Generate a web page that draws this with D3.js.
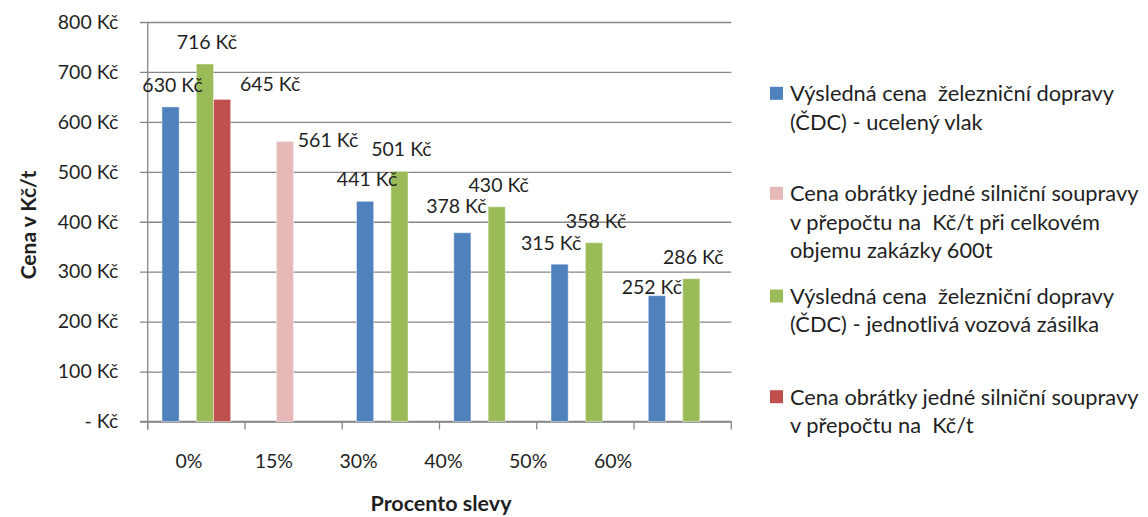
<!DOCTYPE html>
<html>
<head>
<meta charset="utf-8">
<script src="https://cdn.jsdelivr.net/npm/d3@7"></script>
<style>
  html, body { margin: 0; padding: 0; background: #fff; }
  svg text { font-family: Lato, "Open Sans", sans-serif; fill: #1f1f1f; }
</style>
</head>
<body>
<svg id="chart" width="1148" height="517"></svg>
<script>
// Discount levels
const categories = ["0%", "15%", "30%", "40%", "50%", "60%"];

// Series names (legend text, lines split with \n)
const seriesNames = [
  "Výsledná cena  železniční dopravy\n(ČDC) - ucelený vlak",
  "Cena obrátky jedné silniční soupravy\nv přepočtu na  Kč/t při celkovém\nobjemu zakázky 600t",
  "Výsledná cena  železniční dopravy\n(ČDC) - jednotlivá vozová zásilka",
  "Cena obrátky jedné silniční soupravy\nv přepočtu na  Kč/t"
];

// Price in Kč/t per discount level (null = no bar)
const railBlockTrain   = [630, null, 441, 378, 315, 252];
const roadTotalOrder   = [null, 561, null, null, null, null];
const railSingleWagon  = [716, null, 501, 430, 358, 286];
const roadPerTon       = [645, null, null, null, null, null];

const yTicks = [0, 100, 200, 300, 400, 500, 600, 700, 800];

const seriesValues = [railBlockTrain, roadTotalOrder, railSingleWagon, roadPerTon];
const colors = ["#4F81BD", "#E6B9B8", "#9BBB59", "#C0504D"];

// Label placement tweaks (relative to bar centre / bar top)
const labelDefault = { dx: 2, dy: -22 };
const labelTweak = {
  "3|0": { dx: 48, dy: -15 },
  "1|1": { dx: 43, dy: -1 },
  "0|3": { dx: -6, dy: -27 },
  "0|4": { dx: -8.5, dy: -21 },
  "0|5": { dx: -5, dy: -8.5 }
};

const svg = d3.select("#chart");
const plot = { left: 147.7, right: 731.3, top: 22, bottom: 421.5 };
const gridColor = "#868686";
const fontSize = 19.5;

const x0 = d3.scaleBand().domain(categories).range([plot.left, plot.right]).padding(0);
const groupPad = x0.bandwidth() * 0.1465;
const x1 = d3.scaleBand().domain(d3.range(seriesValues.length))
  .range([groupPad, x0.bandwidth() - groupPad]).padding(0);
const y = d3.scaleLinear().domain([0, 800]).range([plot.bottom, plot.top]);

// Category labels sit on their own evenly spaced positions
const xLabel = d3.scalePoint().domain(categories).range([189, 613]);

const fmt = v => v === 0 ? "- Kč" : v + " Kč";

// Horizontal gridlines + y axis
const yAxis = d3.axisLeft(y).tickValues(yTicks).tickFormat(fmt)
  .tickSize(-(plot.right - plot.left)).tickSizeOuter(0).tickPadding(0);
const gy = svg.append("g").attr("transform", `translate(${plot.left},0)`).call(yAxis);
gy.select(".domain").remove();
gy.selectAll(".tick line").attr("stroke", gridColor).attr("stroke-width", 1.3)
  .attr("x1", -7.7);
gy.selectAll(".tick text").attr("x", -29.5).attr("font-size", fontSize)
  .attr("fill", "#1f1f1f").attr("text-anchor", "end");

// Vertical axis line
svg.append("line")
  .attr("x1", plot.left).attr("x2", plot.left)
  .attr("y1", plot.top).attr("y2", plot.bottom + 8)
  .attr("stroke", gridColor).attr("stroke-width", 1.3);

// Bottom axis with boundary ticks
const boundaries = categories.map(c => x0(c)).concat([x0(categories[categories.length - 1]) + x0.bandwidth()]);
svg.append("line")
  .attr("x1", plot.left - 7.7).attr("x2", plot.right)
  .attr("y1", plot.bottom).attr("y2", plot.bottom)
  .attr("stroke", gridColor).attr("stroke-width", 1.3);
svg.append("g").selectAll("line").data(boundaries).join("line")
  .attr("x1", d => d).attr("x2", d => d)
  .attr("y1", plot.bottom).attr("y2", plot.bottom + 8)
  .attr("stroke", gridColor).attr("stroke-width", 1.3);

// Bars
const barData = [];
seriesValues.forEach((vals, si) => vals.forEach((v, ci) => {
  if (v != null) barData.push({ si, ci, v, cat: categories[ci] });
}));

svg.append("g").selectAll("rect").data(barData).join("rect")
  .attr("x", d => x0(d.cat) + x1(d.si))
  .attr("width", x1.bandwidth())
  .attr("y", d => y(d.v))
  .attr("height", d => y(0) - y(d.v))
  .attr("fill", d => colors[d.si])
  .attr("stroke", "rgba(255,255,255,0.45)")
  .attr("stroke-width", 1);

// Value labels
svg.append("g").selectAll("text").data(barData).join("text")
  .attr("x", d => {
    const t = labelTweak[d.si + "|" + d.ci] || labelDefault;
    return x0(d.cat) + x1(d.si) + x1.bandwidth() / 2 + t.dx;
  })
  .attr("y", d => {
    const t = labelTweak[d.si + "|" + d.ci] || labelDefault;
    return y(d.v) + t.dy;
  })
  .attr("dy", "0.36em")
  .attr("text-anchor", "middle")
  .attr("font-size", fontSize)
  .text(d => d.v + " Kč");

// Category labels
svg.append("g").selectAll("text").data(categories).join("text")
  .attr("x", d => xLabel(d))
  .attr("y", 461)
  .attr("dy", "0.36em")
  .attr("text-anchor", "middle")
  .attr("font-size", fontSize)
  .text(d => d);

// Axis titles
svg.append("text")
  .attr("x", 441).attr("y", 503).attr("dy", "0.36em")
  .attr("text-anchor", "middle").attr("font-size", 21.5).attr("font-weight", "bold")
  .text("Procento slevy");

svg.append("text")
  .attr("transform", "translate(28.5,225) rotate(-90)")
  .attr("dy", "0.36em")
  .attr("text-anchor", "middle").attr("font-size", 21).attr("font-weight", "bold")
  .text("Cena v Kč/t");

// Legend
const legendY = [93.3, 193.3, 296, 396.7];
const lineH = 28.6;
const lg = svg.append("g").selectAll("g").data(seriesNames).join("g")
  .attr("transform", (d, i) => `translate(770,${legendY[i]})`);
lg.append("rect")
  .attr("x", 0).attr("y", -6.5).attr("width", 13).attr("height", 13)
  .attr("fill", (d, i) => colors[i]);
lg.append("text")
  .attr("font-size", 21.8)
  .style("white-space", "pre")
  .selectAll("tspan").data(d => d.split("\n")).join("tspan")
  .attr("x", 20)
  .attr("y", (d, i) => i * lineH)
  .attr("dy", "0.36em")
  .text(d => d);
</script>
</body>
</html>
